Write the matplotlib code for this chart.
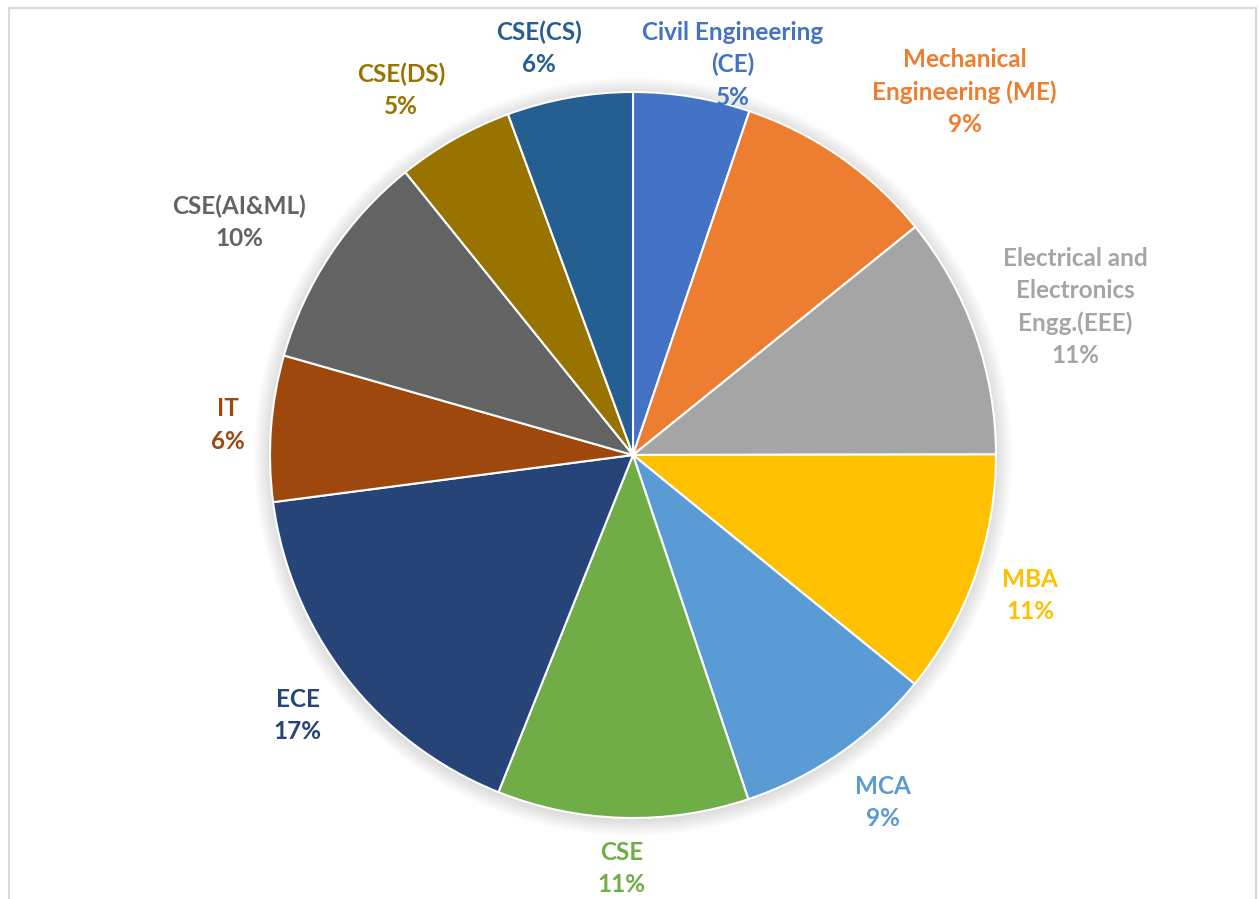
import numpy as np
import matplotlib
matplotlib.use('Agg')
import matplotlib.pyplot as plt
from matplotlib.patches import Circle

plt.rcParams['font.family'] = ['Lato', 'DejaVu Sans']

# departments, clockwise from 12 o'clock
departments = ['Civil Engineering\n(CE)', 'Mechanical\nEngineering (ME)',
               'Electrical and\nElectronics\nEngg.(EEE)', 'MBA', 'MCA', 'CSE',
               'ECE', 'IT', 'CSE(AI&ML)', 'CSE(DS)', 'CSE(CS)']
students = [52, 90, 108, 109, 90, 112, 169, 65, 98, 52, 56]

colors = ['#4472C4', '#ED7D31', '#A5A5A5', '#FFC000', '#5B9BD5', '#70AD47',
          '#264478', '#9E480E', '#636363', '#997300', '#255E91']

# label placement (radial distance in pie radii, small angle nudges in degrees)
label_dist = [1.11, 1.355, 1.285, 1.16, 1.18, 1.14, 1.17, 1.12, 1.26, 1.19, 1.15]
label_nudge = [5, 7.5, 1, 0, -1, 0, 0, 0, -3, -3, -3]

W, H = 1259, 899
fig = plt.figure(figsize=(W / 100, H / 100), dpi=100)
ax = fig.add_axes([0, 0, 1, 1])

R = 363.0
cx, cy = 633.0, 455.0

# soft shadow behind the pie
for i in range(12):
    ax.add_patch(Circle((0, -0.005), 1 + 0.004 * i, color='black',
                        alpha=0.012, lw=0, zorder=0))

wedges, _ = ax.pie(students, colors=colors, startangle=90, counterclock=False,
                   radius=1.0, wedgeprops=dict(edgecolor='white', linewidth=1.5))
for w in wedges:
    w.set_zorder(2)

total = float(sum(students))
for w, name, v, col, d, nud in zip(wedges, departments, students, colors,
                                   label_dist, label_nudge):
    mid = np.deg2rad((w.theta1 + w.theta2) / 2 - nud)
    x, y = d * np.cos(mid), d * np.sin(mid)
    ax.text(x, y, f'{name}\n{v / total * 100:.0f}%', color=col, fontsize=17.5,
            fontweight='bold', ha='center', va='center', linespacing=1.48,
            zorder=3)

ax.set_xlim(-cx / R, (W - cx) / R)
ax.set_ylim(-(H - cy) / R, cy / R)
ax.set_aspect('auto')
ax.axis('off')

# chart area border
fig.add_artist(plt.Line2D([9 / W, 9 / W, 1256 / W, 1256 / W],
                          [0, 1 - 8 / H, 1 - 8 / H, 0],
                          transform=fig.transFigure, color='#D9D9D9', lw=1.5))

fig.savefig('out.png', dpi=100, facecolor='white')
